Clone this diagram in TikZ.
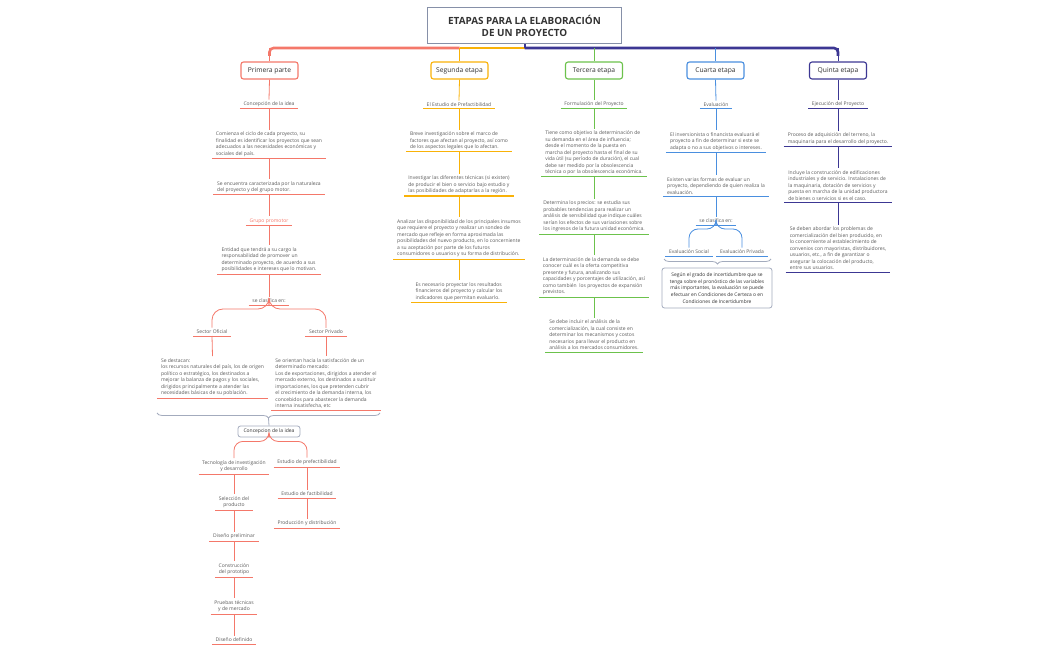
\documentclass[tikz,border=0pt]{standalone}
\usepackage{fontspec}
\setmainfont{Open Sans}
\usetikzlibrary{decorations.pathreplacing}
\definecolor{cred}{HTML}{F4786A}
\definecolor{cyel}{HTML}{F9B208}
\definecolor{cgrn}{HTML}{6CC24C}
\definecolor{cblu}{HTML}{4A8FDF}
\definecolor{cpur}{HTML}{3C3793}
\definecolor{tgray}{HTML}{8690A8}
\definecolor{bgray}{HTML}{A3ABBD}
\definecolor{txt}{HTML}{5A5A5A}
\definecolor{txtd}{HTML}{333333}
\tikzset{
  lbl/.style={anchor=south, inner xsep=3.5pt, inner ysep=2pt, text=txt,
    font=\fontsize{5.0}{6.5}\selectfont, align=center},
  blk/.style={lbl, align=left, inner xsep=4pt},
  ulline/.style={line width=1.0pt},
  cn/.style={line width=0.8pt},
  topbox/.style={draw, rounded corners=2.5pt, line width=1.1pt, fill=white,
    minimum width=57pt, minimum height=17pt, inner sep=1pt,
    font=\fontsize{6.7}{7.5}\selectfont, text=txtd},
  gbox/.style={draw=bgray, rounded corners=2.5pt, line width=0.8pt, fill=white,
    inner sep=2pt, text=txtd},
  brc/.style={draw=bgray, line width=0.8pt,
    decorate, decoration={brace, mirror, amplitude=5pt}},
  bar/.style={line width=2.6pt},
}
\begin{document}
\begin{tikzpicture}[x=1pt,y=-1pt]
\useasboundingbox (0,0) rectangle (1050,650);
% title
\node[draw=tgray, line width=1pt, minimum width=194pt, minimum height=36pt,
  font=\bfseries\fontsize{9.9}{12.5}\selectfont, align=center, text=txtd]
  (root) at (524.5,26) {ETAPAS PARA LA ELABORACIÓN\\DE UN PROYECTO};
% stage boxes
\node[topbox,draw=cred] (k1) at (269.5,70.5) {Primera parte};
\node[topbox,draw=cyel] (k2) at (459.5,70.5) {Segunda etapa};
\node[topbox,draw=cgrn] (k3) at (594,70.5) {Tercera etapa};
\node[topbox,draw=cblu] (k4) at (715.5,70.5) {Cuarta etapa};
\node[topbox,draw=cpur] (k5) at (838,70.5) {Quinta etapa};
\coordinate (j1) at (269.5,48);
\coordinate (j2) at (459.5,48);
\coordinate (j3) at (594,48);
\coordinate (j4) at (715.5,48);
\coordinate (j5) at (838,48);
\coordinate (j0) at (524.5,48);
\draw[bar,cred,rounded corners=4pt] (269.5,56) -- (j1) -- (j2);
\draw[bar,cyel] (j2) -- (j0);
\draw[bar,cpur,rounded corners=4pt] (j0) -- (j5) -- (838,56);
\draw[line width=2pt,cpur] (root.south) -- (j0);
\draw[cn,cred] (j1) -- (k1.north);
\draw[cn,cyel] (j2) -- (k2.north);
\draw[cn,cgrn] (j3) -- (k3.north);
\draw[cn,cblu] (j4) -- (k4.north);
\draw[cn,cpur] (j5) -- (k5.north);

% ---------- column 1
\node[lbl] (c1a) at (269,109) {Concepción de la idea};
\node[blk] (c1b) at (269,158.5) {Comienza el ciclo de cada proyecto, su\\finalidad es identificar los proyectos que sean\\adecuados a las necesidades económicas y\\sociales del país.};
\node[blk] (c1c) at (269,195) {Se encuentra caracterizada por la naturaleza\\del proyecto y del grupo motor.};
\node[lbl,text=cred] (c1d) at (269,225.5) {Grupo promotor};
\node[blk] (c1e) at (269,274) {Entidad que tendrá a su cargo la\\responsabilidad de promover un\\determinado proyecto, de acuerdo a sus\\posibilidades e intereses que lo motivan.};
\node[lbl] (c1f) at (269,305) {se clasifica en:};
\node[lbl] (so) at (212,336) {Sector Oficial};
\node[lbl] (sp) at (326,336) {Sector Privado};
\node[blk] (so1) at (212.5,398) {Se destacan:\\los recursos naturales del país, los de origen\\político o estratégico, los destinados a\\mejorar la balanza de pagos y los sociales,\\dirigidos principalmente a atender las\\necesidades básicas de su población.};
\node[blk] (sp1) at (326,410.7) {Se orientan hacia la satisfacción de un\\determinado mercado:\\Los de exportaciones, dirigidos a atender el\\mercado externo, los destinados a sustituir\\importaciones, los que pretenden cubrir\\el crecimiento de la demanda interna, los\\concebidos para abastecer la demanda\\interna insatisfecha, etc};
\draw[brc] (157,413) -- (380,413);
\coordinate (br1) at (268.5,418);
\node[gbox,font=\fontsize{5.0}{6}\selectfont, minimum width=62pt, minimum height=11pt] (cb) at (269,431.5) {Concepcion de la idea};
\node[lbl] (t1) at (234,474) {Tecnología de investigación\\y desarrollo};
\node[lbl] (t2) at (234,510) {Selección del\\producto};
\node[lbl] (t3) at (234,541) {Diseño preliminar};
\node[lbl] (t4) at (234,577) {Construcción\\del prototipo};
\node[lbl] (t5) at (234,614) {Pruebas técnicas\\y de mercado};
\node[lbl] (t6) at (234,644) {Diseño definido};
\node[lbl] (r1) at (307,467) {Estudio de prefectibilidad};
\node[lbl] (r2) at (307,498) {Estudio de factibilidad};
\node[lbl] (r3) at (307,528) {Producción y distribución};
\foreach \a/\b in {k1/c1a,c1a/c1b,c1b/c1c,c1c/c1d,c1d/c1e,c1e/c1f,so/so1,sp/sp1,t1/t2,t2/t3,t3/t4,t4/t5,t5/t6,r1/r2,r2/r3}
  \draw[cn,cred] (\a.south) -- (\b.north);
\draw[cn,cred,rounded corners=11pt] (c1f.south) -- ++(0,4) -| (so.north);
\draw[cn,cred,rounded corners=11pt] (c1f.south) -- ++(0,4) -| (sp.north);
\draw[cn,bgray] (br1) -- (cb.north);
\draw[cn,cred,rounded corners=9pt] (cb.south) -- ++(0,4) -| (t1.north);
\draw[cn,cred,rounded corners=9pt] (cb.south) -- ++(0,4) -| (r1.north);
\foreach \n in {c1a,c1b,c1c,c1d,c1e,c1f,so,sp,so1,sp1,t1,t2,t3,t4,t5,t6,r1,r2,r3}
  \draw[ulline,cred] (\n.south west) -- (\n.south east);

% ---------- column 2
\node[lbl] (y0) at (459,109) {El Estudio de Prefactibilidad};
\node[blk] (y1) at (459,152) {Breve investigación sobre el marco de\\factores que afectan al proyecto, así como\\de los aspectos legales que lo afectan.};
\node[blk] (y2) at (459,196) {Investigar las diferentes técnicas (si existen)\\de producir el bien o servicio bajo estudio y\\las posibilidades de adaptarlas a la región.};
\node[blk] (y3) at (459,259) {Analizar las disponibilidad de los principales insumos\\que requiere el proyecto y realizar un sondeo de\\mercado que refleje en forma aproximada las\\posibilidades del nuevo producto, en lo concerniente\\a su aceptación por parte de los futuros\\consumidores o usuarios y su forma de distribución.};
\node[blk] (y4) at (459,302.5) {Es necesario proyectar los resultados\\financieros del proyecto y calcular los\\indicadores que permitan evaluarlo.};
\foreach \a/\b in {k2/y0,y0/y1,y1/y2,y2/y3,y3/y4}
  \draw[cn,cyel] (\a.south) -- (\b.north);
\foreach \n in {y0,y1,y2,y3,y4}
  \draw[ulline,cyel] (\n.south west) -- (\n.south east);

% ---------- column 3
\node[lbl] (g0) at (594,109) {Formulación del Proyecto};
\node[blk] (g1) at (594,177) {Tiene como objetivo la determinación de\\su demanda en el área de influencia;\\desde el momento de la puesta en\\marcha del proyecto hasta el final de su\\vida útil (su período de duración), el cual\\debe ser medido por la obsolescencia\\técnica o por la obsolescencia económica.};
\node[blk] (g2) at (594,234) {Determina los precios: se estudia sus\\probables tendencias para realizar un\\análisis de sensibilidad que indique cuáles\\serían los efectos de sus variaciones sobre\\los ingresos de la futura unidad económica.};
\node[blk] (g3) at (594,297) {La determinación de la demanda se debe\\conocer cuál es la oferta competitiva\\presente y futura, analizando sus\\capacidades y porcentajes de utilización, así\\como también\ \ los proyectos de expansión\\previstos.};
\node[blk] (g4) at (594,352) {Se debe incluir el análisis de la\\comercialización, la cual consiste en\\determinar los mecanismos y costos\\necesarios para llevar el producto en\\análisis a los mercados consumidores.};
\foreach \a/\b in {k3/g0,g0/g1,g1/g2,g2/g3,g3/g4}
  \draw[cn,cgrn] (\a.south) -- (\b.north);
\foreach \n in {g0,g1,g2,g3,g4}
  \draw[ulline,cgrn] (\n.south west) -- (\n.south east);

% ---------- column 4
\node[lbl] (e0) at (716,109) {Evaluación};
\node[blk] (e1) at (716,152.5) {El inversionista o financista evaluará el\\proyecto a fin de determinar si este se\\adapta o no a sus objetivos o intereses.};
\node[blk] (e2) at (716,196.5) {Existen varias formas de evaluar un\\proyecto, dependiendo de quien realiza la\\evaluación.};
\node[lbl] (e3) at (716,225) {se clasifica en:};
\node[lbl] (es) at (689,256) {Evaluación Social};
\node[lbl] (ep) at (742,256) {Evaluación Privada};
\draw[brc] (664,259) -- (771,259);
\node[gbox, font=\fontsize{4.9}{6.6}\selectfont, align=center, minimum width=110pt, minimum height=40pt] (nt) at (717,288) {Según el grado de incertidumbre que se\\tenga sobre el pronóstico de las variables\\más importantes, la evaluación se puede\\efectuar en Condiciones de Certeza o en\\Condiciones de Incertidumbre};
\foreach \a/\b in {k4/e0,e0/e1,e1/e2,e2/e3}
  \draw[cn,cblu] (\a.south) -- (\b.north);
\draw[cn,cblu,rounded corners=9pt] (e3.south) -- ++(0,4) -| (es.north);
\draw[cn,cblu,rounded corners=9pt] (e3.south) -- ++(0,4) -| (ep.north);
\foreach \n in {e0,e1,e2,e3,es,ep}
  \draw[ulline,cblu] (\n.south west) -- (\n.south east);

% ---------- column 5
\node[lbl] (p0) at (838,109) {Ejecución del Proyecto};
\node[blk] (p1) at (838,146.5) {Proceso de adquisición del terreno, la\\maquinaria para el desarrollo del proyecto.};
\node[blk] (p2) at (838,202.5) {Incluye la construcción de edificaciones\\industriales y de servicio. Instalaciones de\\la maquinaria, dotación de servicios y\\puesta en marcha de la unidad productora\\de bienes o servicios si es el caso.};
\node[blk] (p3) at (838,272) {Se deben abordar los problemas de\\comercialización del bien producido, en\\lo concerniente al establecimiento de\\convenios con mayoristas, distribuidores,\\usuarios, etc., a fin de garantizar o\\asegurar la colocación del producto,\\entre sus usuarios.};
\foreach \a/\b in {k5/p0,p0/p1,p1/p2,p2/p3}
  \draw[cn,cpur] (\a.south) -- (\b.north);
\foreach \n in {p0,p1,p2,p3}
  \draw[ulline,cpur] (\n.south west) -- (\n.south east);
\end{tikzpicture}
\end{document}
